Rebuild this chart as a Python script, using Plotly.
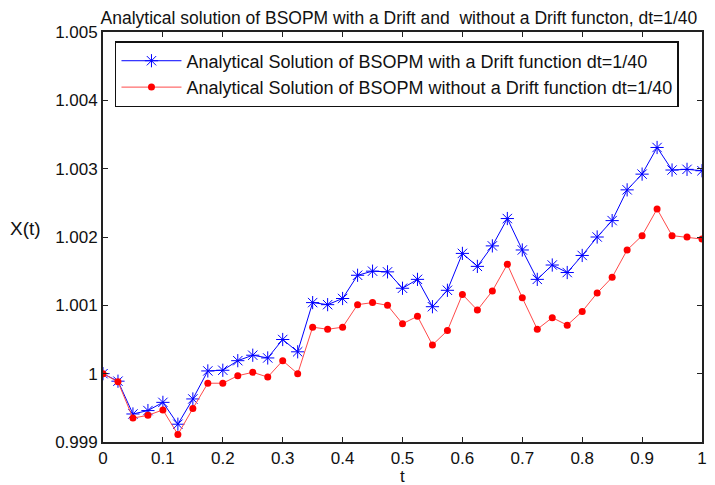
import plotly.graph_objects as go

t = [i / 40 for i in range(41)]

with_drift = [
    1.00000, 0.99989, 0.99941, 0.99946, 0.99958, 0.99926, 0.99963, 1.00004, 1.00005, 1.00019,
    1.00027, 1.00023, 1.00050, 1.00032, 1.00104, 1.00101, 1.00110, 1.00144, 1.00150, 1.00149,
    1.00125, 1.00138, 1.00098, 1.00122, 1.00176, 1.00157, 1.00187, 1.00227, 1.00181, 1.00138,
    1.00159, 1.00148, 1.00173, 1.00200, 1.00224, 1.00269, 1.00292, 1.00331, 1.00298, 1.00299,
    1.00297,
]

without_drift = [
    1.00000, 0.99988, 0.99935, 0.99939, 0.99947, 0.99911, 0.99949, 0.99986, 0.99986, 0.99997,
    1.00002, 0.99995, 1.00019, 1.00000, 1.00068, 1.00065, 1.00068, 1.00101, 1.00104, 1.00100,
    1.00073, 1.00084, 1.00042, 1.00063, 1.00116, 1.00093, 1.00121, 1.00160, 1.00111, 1.00065,
    1.00082, 1.00071, 1.00091, 1.00118, 1.00141, 1.00181, 1.00202, 1.00241, 1.00202, 1.00200,
    1.00197,
]

x_tickvals = [0, 0.1, 0.2, 0.3, 0.4, 0.5, 0.6, 0.7, 0.8, 0.9, 1]
x_ticktext = ["0", "0.1", "0.2", "0.3", "0.4", "0.5", "0.6", "0.7", "0.8", "0.9", "1"]
y_tickvals = [0.999, 1.0, 1.001, 1.002, 1.003, 1.004, 1.005]
y_ticktext = ["0.999", "1", "1.001", "1.002", "1.003", "1.004", "1.005"]

FONT = "Liberation Sans, Arial, sans-serif"
INK = "#111111"

fig = go.Figure()
fig.add_trace(go.Scatter(
    x=t, y=with_drift, mode="lines+markers",
    name="Analytical Solution of BSOPM with a Drift function dt=1/40",
    line=dict(color="#0000ff", width=1),
    marker=dict(symbol="asterisk-open", size=11, color="#0000ff",
                line=dict(color="#2a2aff", width=1)),
))
fig.add_trace(go.Scatter(
    x=t, y=without_drift, mode="lines+markers",
    name="Analytical Solution of BSOPM without a Drift function dt=1/40",
    line=dict(color="#ff4a4a", width=1),
    marker=dict(symbol="circle", size=7, color="#ff0000"),
))

axis_common = dict(
    showline=True, linecolor="#222222", linewidth=1.8, mirror="allticks",
    ticks="inside", ticklen=5, tickcolor="#222222", tickwidth=1,
    showgrid=False, zeroline=False,
    tickfont=dict(family=FONT, size=17, color=INK),
)

fig.update_layout(
    width=707, height=477,
    margin=dict(l=95, r=8, t=24, b=43),
    paper_bgcolor="white", plot_bgcolor="white",
    font=dict(family=FONT, color=INK),
    title=dict(
        text="Analytical solution of BSOPM with a Drift and  without a Drift functon, dt=1/40",
        x=0.553, xanchor="center", y=0.979, yanchor="middle",
        font=dict(family=FONT, size=17.5, color=INK),
    ),
    xaxis=dict(range=[0, 1], tickvals=x_tickvals, ticktext=x_ticktext, **axis_common),
    yaxis=dict(range=[0.999, 1.005], tickvals=y_tickvals, ticktext=y_ticktext, **axis_common),
    legend=dict(
        x=0.02, y=0.978, xanchor="left", yanchor="top",
        bgcolor="white", bordercolor=INK, borderwidth=1.5,
        font=dict(family=FONT, size=18, color=INK),
        itemwidth=60, tracegroupgap=0,
    ),
    showlegend=True,
)

fig.add_annotation(text="X(t)", xref="paper", yref="paper", x=-0.129, y=0.52,
                   xanchor="center", yanchor="middle", showarrow=False,
                   font=dict(family=FONT, size=19, color=INK))
fig.add_annotation(text="t", xref="paper", yref="paper", x=0.5, y=-0.083,
                   xanchor="center", yanchor="middle", showarrow=False,
                   font=dict(family=FONT, size=17, color=INK))

fig.write_html("out.html")
